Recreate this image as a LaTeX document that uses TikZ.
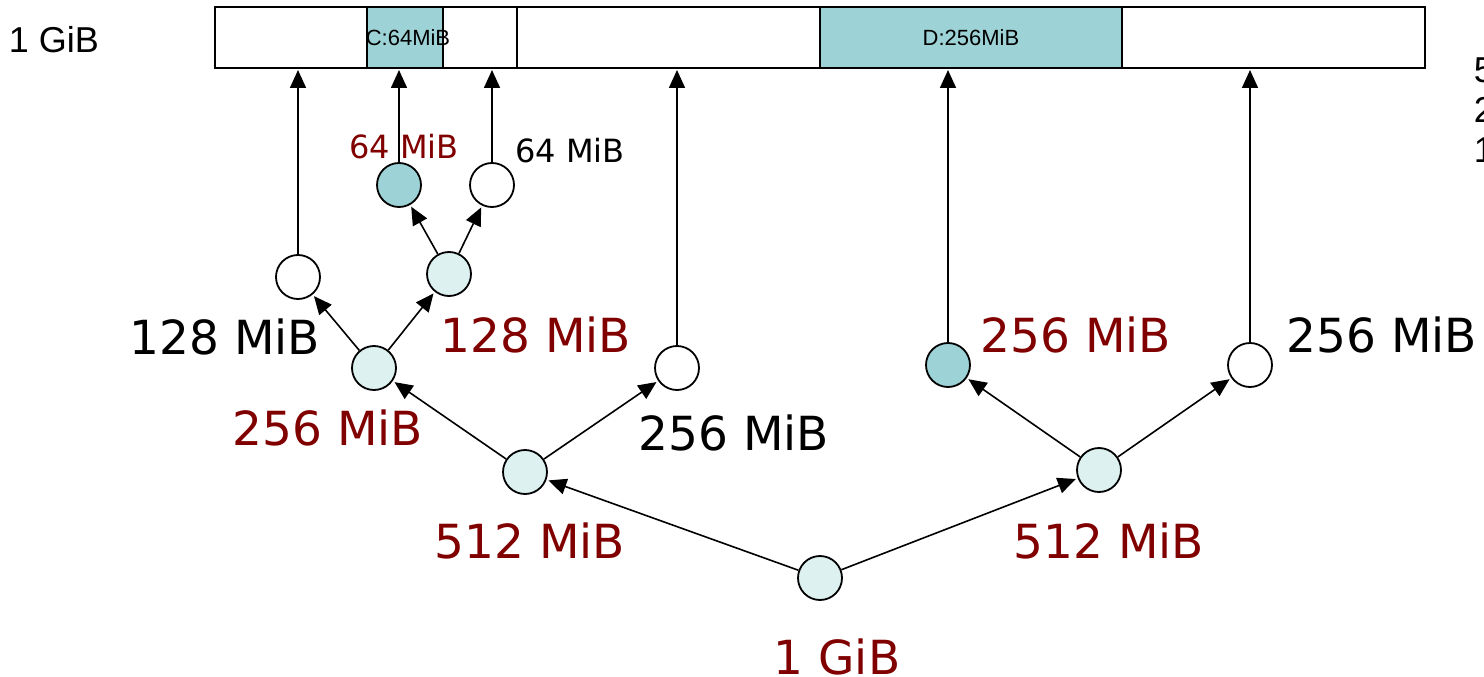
\documentclass[tikz,border=0pt]{standalone}
\usepackage{fontspec}
\setmainfont{DejaVu Sans}
\newfontfamily\arialfont{Liberation Sans}
\usetikzlibrary{arrows.meta}
\definecolor{csplit}{RGB}{222,241,241}
\definecolor{cused}{RGB}{157,211,214}
\definecolor{cdark}{RGB}{128,0,0}
\tikzset{pix/.style={x=1pt,y=-1pt,line width=1.6pt}}
\tikzset{blk/.style={circle,draw,line width=1.8pt,minimum size=44pt,inner sep=0pt},
         bfree/.style={blk,fill=white},
         bsplit/.style={blk,fill=csplit},
         bused/.style={blk,fill=cused},
         arr/.style={-{Triangle[length=18pt,width=16pt]},line width=1.6pt,shorten >=2pt},
         big/.style={inner sep=0pt,font=\fontsize{47}{50}\selectfont},
         mid/.style={inner sep=0pt,font=\fontsize{32}{34}\selectfont},
         ari/.style={inner sep=0pt,font=\arialfont\fontsize{36}{38}\selectfont},
         tiny/.style={inner sep=0pt,font=\arialfont\fontsize{22}{24}\selectfont}}

\begin{document}
\begin{tikzpicture}[pix]
    \useasboundingbox (0,0) rectangle (1484,677);
    % memory bar
    \foreach \a/\b/\c in {215/367/white,367/443/cused,443/517/white,
                          517/820/white,820/1122/cused,1122/1425/white}
      \draw[line width=1.8pt,fill=\c] (\a,7) rectangle (\b,68);
    \coordinate (barbot) at (0,68);
    \node[tiny] (segc) at (408,38) {C:64MiB};
    \node[tiny] (segd) at (971,38) {D:256MiB};
    \node[ari,anchor=west] (total) at (8,40) {1 GiB};
    \node[ari,anchor=west] (lg1) at (1473,70) {5};
    \node[ari,anchor=west] (lg2) at (1473,110) {2};
    \node[ari,anchor=west] (lg3) at (1473,150) {1};
    % buddy tree
    \node[bsplit] (root) at (820,578) {};
    \node[bsplit] (l512) at (525,472) {};
    \node[bsplit] (r512) at (1099,470) {};
    \node[bsplit] (l256) at (374,368) {};
    \node[bfree]  (m256) at (677,368) {};
    \node[bused]  (d256) at (948,365) {};
    \node[bfree]  (r256) at (1250,365) {};
    \node[bfree]  (a128) at (298,277) {};
    \node[bsplit] (b128) at (449,274) {};
    \node[bused]  (c64)  at (399,185) {};
    \node[bfree]  (e64)  at (492,185) {};
    \draw[arr] (root) -- (l512);
    \draw[arr] (root) -- (r512);
    \draw[arr] (l512) -- (l256);
    \draw[arr] (l512) -- (m256);
    \draw[arr] (r512) -- (d256);
    \draw[arr] (r512) -- (r256);
    \draw[arr] (l256) -- (a128);
    \draw[arr] (l256) -- (b128);
    \draw[arr] (b128) -- (c64);
    \draw[arr] (b128) -- (e64);
    \foreach \b in {a128,c64,e64,m256,d256,r256}
      \draw[arr] (\b) -- (\b |- barbot);
    % labels
    \node[big,cdark] (troot) at (837,657) {1 GiB};
    \node[big,cdark] (tl512) at (530,541) {512 MiB};
    \node[big,cdark] (tr512) at (1109,541) {512 MiB};
    \node[big,cdark] (tl256) at (328,428) {256 MiB};
    \node[big]       (tm256) at (734,433) {256 MiB};
    \node[big,cdark] (td256) at (1076,335) {256 MiB};
    \node[big]       (tr256) at (1382,335) {256 MiB};
    \node[big]       (ta128) at (225,337) {128 MiB};
    \node[big,cdark] (tb128) at (536,335) {128 MiB};
    \node[mid,cdark] (tc64)  at (404,147) {64 MiB};
    \node[mid]       (te64)  at (570,151) {64 MiB};
\end{tikzpicture}
\end{document}
